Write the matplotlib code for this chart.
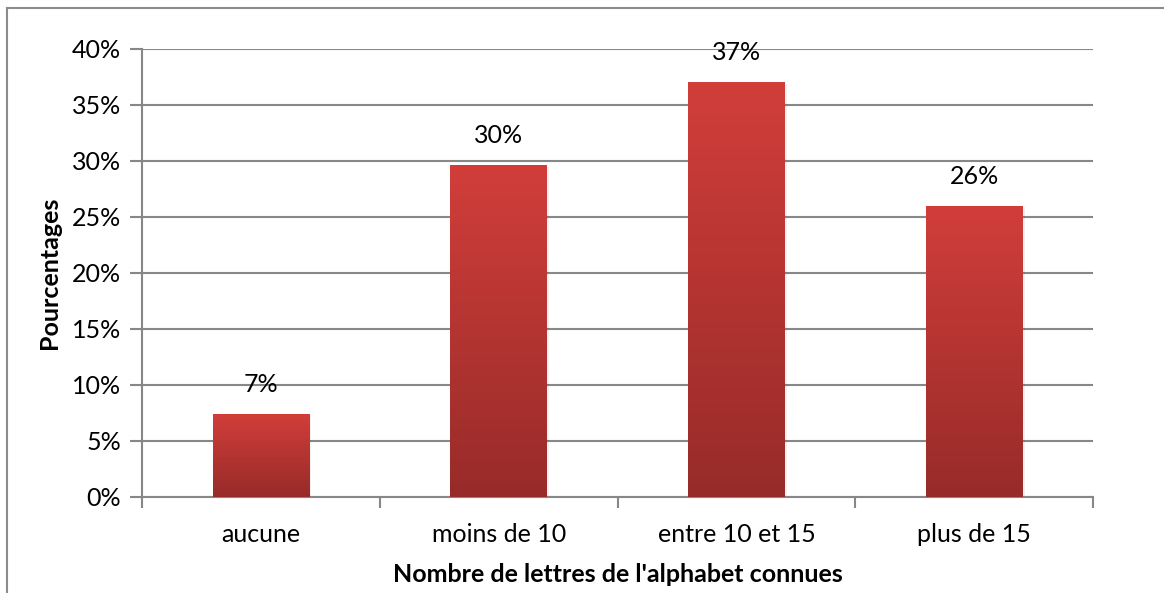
import numpy as np
import matplotlib.pyplot as plt
from matplotlib.lines import Line2D
from matplotlib.colors import LinearSegmentedColormap

categories = ["aucune", "moins de 10", "entre 10 et 15", "plus de 15"]
values = [7.4, 29.6, 37.05, 26.0]
labels = ["7%", "30%", "37%", "26%"]
yticks = [0, 5, 10, 15, 20, 25, 30, 35, 40]

plt.rcParams['font.family'] = ['Lato', 'DejaVu Sans']
W, H = 1164, 593
fig = plt.figure(figsize=(W / 100, H / 100), dpi=100)
ax = fig.add_axes([142 / W, 1 - 497 / H, (1093 - 142) / W, (497 - 49) / H])

grid_col = "#878787"
fs = 18
x = np.arange(len(categories))
bars = ax.bar(x, values, width=0.405, color="#c03a36", zorder=3)

# vertical gradient inside each bar
cmap = LinearSegmentedColormap.from_list("red", ["#972b29", "#d13e3a"])
grad = np.linspace(0, 1, 256).reshape(-1, 1)
for b in bars:
    x0, w, h = b.get_x(), b.get_width(), b.get_height()
    im = ax.imshow(grad, extent=[x0, x0 + w, 0, h], origin="lower", cmap=cmap,
                   aspect="auto", zorder=4)
    im.set_clip_path(b)
    # faint shadow on the right
    ax.bar(x0 + w / 2 + 0.01, h, width=w, bottom=-0.15, color="#000000", alpha=0.06, zorder=2)

for xi, v, lab in zip(x, values, labels):
    ax.annotate(lab, (xi, v), xytext=(0, 13), textcoords="offset points",
                ha="center", va="bottom", fontsize=fs, color="#000000")

ax.set_xlim(-0.5, len(categories) - 0.5)
ax.set_ylim(0, 40)
ax.set_yticks(yticks)
ax.set_yticklabels([f"{t}%" for t in yticks], fontsize=fs)
ax.set_xticks(x)
ax.set_xticklabels(categories, fontsize=fs)
ax.set_xticks(np.arange(-0.5, len(categories)), minor=True)
ax.tick_params(axis="x", which="major", length=0, pad=19)
ax.tick_params(axis="x", which="minor", length=8, width=1.5, color=grid_col)
ax.tick_params(axis="y", length=9, width=1.5, color=grid_col, pad=6)
ax.yaxis.grid(True, color=grid_col, linewidth=1.5, zorder=0)
ax.set_axisbelow(True)
for s in ["top", "right"]:
    ax.spines[s].set_visible(False)
for s in ["left", "bottom"]:
    ax.spines[s].set_color(grid_col)
    ax.spines[s].set_linewidth(1.5)

ax.set_xlabel("Nombre de lettres de l'alphabet connues", fontsize=fs, fontweight="bold", labelpad=12)
ax.set_ylabel("Pourcentages", fontsize=fs, fontweight="bold", labelpad=8)

# chart-area border (only top and left visible in the crop)
fig.add_artist(Line2D([7 / W, 7 / W], [0, 1 - 8 / H], color="#8c8c8c", linewidth=1.5))
fig.add_artist(Line2D([7 / W, 1], [1 - 8 / H, 1 - 8 / H], color="#8c8c8c", linewidth=1.5))

fig.savefig("out.png", dpi=100)
